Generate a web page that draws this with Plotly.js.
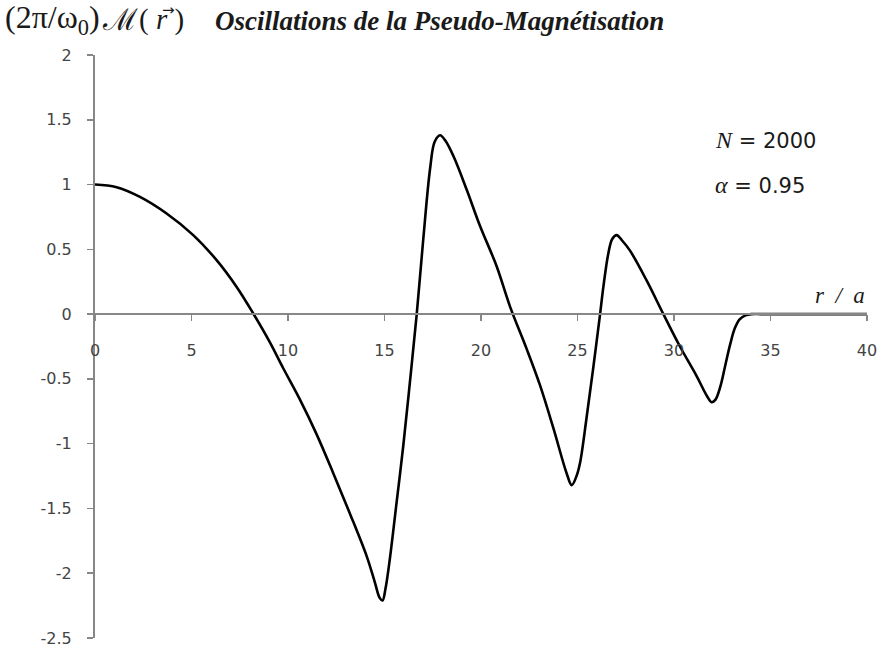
<!DOCTYPE html>
<html>
<head>
<meta charset="utf-8">
<script src="https://cdn.plot.ly/plotly-3.0.1.min.js"></script>
<style>
  html, body { margin: 0; padding: 0; background: #ffffff; }
  #chart { width: 878px; height: 652px; }
</style>
</head>
<body>
<div id="chart"></div>
<script>
// Reduced radius r/a
const rOverA = [
  0, 1.12, 2.33, 3.71, 5.09, 6.30, 7.34, 8.20, 9.07, 9.76, 10.62, 11.49, 12.35, 13.21, 14.08,
  14.5, 14.75, 14.9, 15.05, 15.25, 15.63, 15.97, 16.32, 16.67, 17.01, 17.36, 17.6, 17.88, 18.15,
  18.57, 19.26, 19.95, 20.81, 21.50, 22.37, 23.06, 23.75, 24.44, 24.70, 24.95, 25.13,
  25.47, 25.82, 26.17, 26.34, 26.6, 26.8, 27.03, 27.3, 27.72, 28.58, 29.45, 30.31, 31.18,
  31.7, 31.95, 32.15, 32.4, 32.65, 32.9, 33.15, 33.4, 33.7, 34.0, 34.5, 35, 40
];

// Normalised pseudo-magnetisation (2π/ω0)·M(r)
const magnetisation = [
  1.0, 0.98, 0.905, 0.777, 0.61, 0.417, 0.21, 0.005, -0.22, -0.42, -0.66, -0.93, -1.23, -1.54, -1.87,
  -2.07, -2.19, -2.21, -2.12, -1.92, -1.45, -1.02, -0.52, 0.0, 0.58, 1.12, 1.33, 1.38, 1.34,
  1.22, 0.96, 0.68, 0.37, 0.06, -0.27, -0.55, -0.88, -1.23, -1.32, -1.25, -1.15,
  -0.80, -0.41, 0.0, 0.21, 0.47, 0.58, 0.61, 0.57, 0.49, 0.26, 0.0, -0.25, -0.48,
  -0.63, -0.68, -0.66, -0.56, -0.40, -0.24, -0.11, -0.04, -0.01, 0, 0, 0, 0
];

const xTickVals = [0, 5, 10, 15, 20, 25, 30, 35, 40];
const xTickText = ['0', '5', '10', '15', '20', '25', '30', '35', '40'];
const yTickVals = [2, 1.5, 1, 0.5, 0, -0.5, -1, -1.5, -2, -2.5];
const yTickText = ['2', '1.5', '1', '0.5', '0', '-0.5', '-1', '-1.5', '-2', '-2.5'];

const xRange = [0, 40];
const yRange = [-2.5, 2];

const axisGrey = '#878787';
const tickFont = { family: 'DejaVu Sans, Verdana, sans-serif', size: 16, color: '#444444' };
const serif = 'Liberation Serif, Times New Roman, serif';
const sans = 'DejaVu Sans, Verdana, sans-serif';
const ink = '#1a1a1a';

// pixel helpers for the labels placed in the top margin
const plotLeft = 95, plotWidth = 772, plotBottom = 638, plotHeight = 583;
const px = v => (v - plotLeft) / plotWidth;
const py = v => (plotBottom - v) / plotHeight;

const trace = {
  x: rOverA,
  y: magnetisation,
  type: 'scatter',
  mode: 'lines',
  line: { color: '#000000', width: 2.6, shape: 'spline', smoothing: 1.0 },
  hoverinfo: 'skip',
  showlegend: false
};

const layout = {
  width: 878,
  height: 652,
  margin: { l: 95, r: 11, t: 55, b: 14 },
  paper_bgcolor: '#ffffff',
  plot_bgcolor: '#ffffff',
  title: {
    text: '<b><i>Oscillations de la Pseudo-Magnétisation</i></b>',
    font: { family: serif, size: 27, color: ink },
    xref: 'container', yref: 'container',
    x: 215 / 878, xanchor: 'left',
    y: 1 - 21 / 652, yanchor: 'middle'
  },
  xaxis: {
    range: xRange,
    anchor: 'free',
    // horizontal axis crosses the vertical one at zero
    position: (0 - yRange[0]) / (yRange[1] - yRange[0]),
    showline: true, linecolor: axisGrey, linewidth: 2,
    ticks: 'outside', ticklen: 6, tickwidth: 1.5, tickcolor: axisGrey,
    tickmode: 'array', tickvals: xTickVals, ticktext: xTickText,
    tickfont: tickFont, ticklabelstandoff: 16,
    showgrid: false, zeroline: false
  },
  yaxis: {
    range: yRange,
    showline: true, linecolor: axisGrey, linewidth: 2,
    ticks: 'outside', ticklen: 6, tickwidth: 1.5, tickcolor: axisGrey,
    tickmode: 'array', tickvals: yTickVals, ticktext: yTickText,
    tickfont: tickFont, ticklabelstandoff: 12,
    showgrid: false, zeroline: false
  },
  annotations: [
    {
      text: '(2π/ω<sub>0</sub>)',
      xref: 'paper', yref: 'paper',
      x: px(3), xanchor: 'left', y: py(20), yanchor: 'middle',
      showarrow: false,
      font: { family: serif, size: 32, color: ink }
    },
    {
      text: 'ℳ',
      xref: 'paper', yref: 'paper',
      x: px(100), xanchor: 'left', y: py(20), yanchor: 'middle',
      showarrow: false,
      font: { family: serif, size: 30, color: ink }
    },
    {
      text: '(&nbsp;<i>r</i>&nbsp;)',
      xref: 'paper', yref: 'paper',
      x: px(161), xanchor: 'center', y: py(20), yanchor: 'middle',
      showarrow: false,
      font: { family: serif, size: 29, color: ink }
    },
    {
      // vector arrow over r
      text: '→',
      xref: 'paper', yref: 'paper',
      x: px(168), xanchor: 'center', y: py(10), yanchor: 'middle',
      showarrow: false,
      font: { family: sans, size: 15, color: ink }
    },
    {
      text: '<span style="font-family:Liberation Serif;font-style:italic;font-size:24px">N</span> = 2000',
      xref: 'x', yref: 'y',
      x: 32.02, xanchor: 'left', y: 1.343, yanchor: 'middle',
      showarrow: false,
      font: { family: sans, size: 21, color: ink }
    },
    {
      text: '<span style="font-family:Liberation Serif;font-style:italic;font-size:24px">α</span> = 0.95',
      xref: 'x', yref: 'y',
      x: 32.02, xanchor: 'left', y: 0.995, yanchor: 'middle',
      showarrow: false,
      font: { family: sans, size: 21, color: ink }
    },
    {
      text: '<i>r&nbsp; / &nbsp;a</i>',
      xref: 'x', yref: 'y',
      x: 40, xanchor: 'right', y: 0.14, yanchor: 'middle',
      showarrow: false,
      font: { family: serif, size: 23, color: ink }
    }
  ]
};

Plotly.newPlot('chart', [trace], layout, { staticPlot: true, displayModeBar: false });
</script>
</body>
</html>
